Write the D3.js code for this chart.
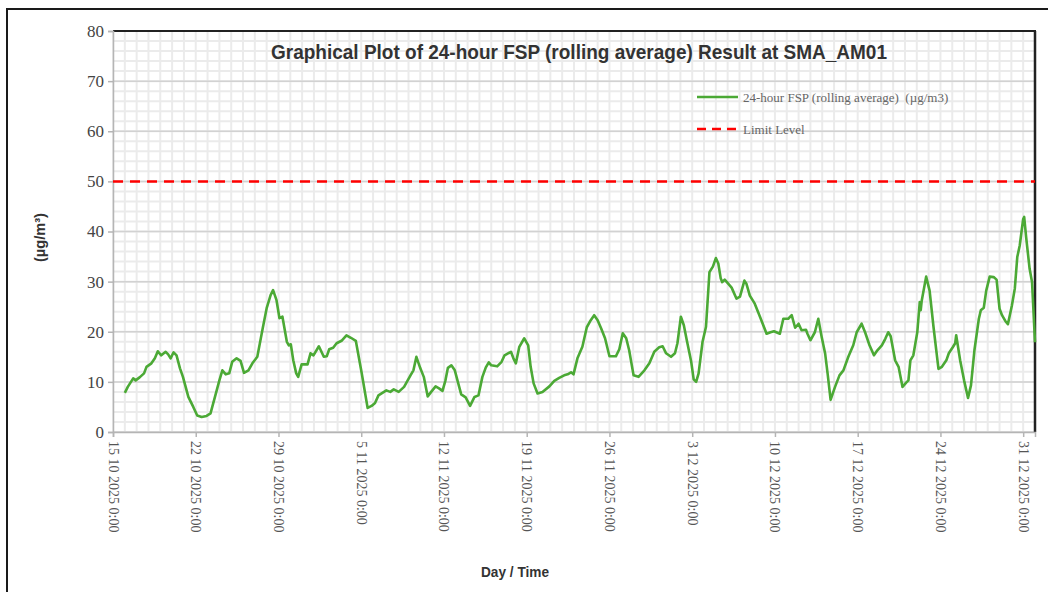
<!DOCTYPE html>
<html>
<head>
<meta charset="utf-8">
<title>24-hour FSP rolling average – SMA_AM01</title>
<script src="https://cdn.jsdelivr.net/npm/d3@7"></script>
<style>
  body { margin: 0; background: #fff; }
  svg { display: block; }
  .keep-space { white-space: pre; }
</style>
</head>
<body>
<svg id="chart" width="1048" height="592"></svg>
<script>
// ---- data -------------------------------------------------------------
const startTime = "2025-10-15 0:00";
// hours elapsed since startTime for each reading
const hoursFromStart = [
  24, 30, 41, 46, 54, 63, 68, 78, 85, 91, 98, 107, 112, 117, 123, 129, 136, 142, 153, 163,
  171, 180, 190, 198, 207, 216, 222, 229, 236, 242, 251, 259, 266, 275, 283, 293, 304, 312, 320, 325,
  332, 338, 344, 353, 357, 361, 366, 372, 376, 383, 395, 401, 407, 418, 428, 434, 439, 447, 454, 464,
  474, 483, 493, 505, 517, 525, 532, 539, 555, 563, 570, 580, 591, 604, 610, 616, 624, 631, 639, 646,
  655, 662, 669, 675, 680, 687, 694, 701, 707, 716, 725, 734, 742, 750, 757, 763, 768, 780, 789, 795,
  808, 813, 818, 825, 835, 843, 848, 854, 862, 872, 886, 896, 906, 916, 923, 930, 935, 943, 953, 962,
  970, 977, 984, 991, 999, 1008, 1021, 1028, 1035, 1042, 1048, 1057, 1067, 1079, 1089, 1099, 1109, 1116, 1123, 1133,
  1141, 1146, 1153, 1159, 1165, 1174, 1179, 1184, 1189, 1197, 1204, 1211, 1218, 1224, 1229, 1234, 1237, 1242, 1249, 1256,
  1266, 1273, 1282, 1286, 1293, 1303, 1314, 1327, 1335, 1342, 1354, 1361, 1371, 1378, 1385, 1392, 1398, 1407, 1410, 1416,
  1425, 1432, 1439, 1446, 1451, 1457, 1466, 1475, 1483, 1493, 1503, 1510, 1520, 1527, 1536, 1545, 1552, 1561, 1568, 1574,
  1579, 1588, 1595, 1603, 1610, 1615, 1619, 1625, 1633, 1638, 1640, 1642, 1651, 1658, 1666, 1676, 1683, 1692, 1697, 1705,
  1710, 1712, 1720, 1728, 1736, 1742, 1749, 1758, 1762, 1768, 1773, 1780, 1788, 1794, 1800, 1805, 1812, 1817, 1825, 1831,
  1836, 1841, 1848, 1850, 1854, 1861, 1866, 1872
];
// 24-hour FSP rolling average (µg/m3)
const fspValues = [
  7.8, 9.0, 10.7, 10.3, 10.9, 11.7, 13.0, 13.7, 14.7, 16.1, 15.3, 16.0, 15.5, 14.7, 15.9, 15.3, 12.7, 11.0, 7.0, 5.0,
  3.3, 3.0, 3.2, 3.7, 7.0, 10.3, 12.3, 11.5, 11.7, 14.0, 14.7, 14.2, 11.8, 12.3, 13.7, 15.0, 20.7, 24.7, 27.3, 28.3,
  26.3, 22.7, 23.0, 18.0, 17.3, 17.5, 14.3, 11.7, 11.0, 13.5, 13.5, 15.7, 15.3, 17.1, 15.0, 15.1, 16.5, 16.8, 17.7, 18.2,
  19.3, 18.8, 18.2, 11.7, 4.8, 5.2, 5.8, 7.3, 8.3, 8.0, 8.5, 8.0, 9.0, 11.3, 12.3, 15.0, 12.7, 11.0, 7.1, 8.0,
  9.1, 8.7, 8.2, 10.3, 12.8, 13.3, 12.3, 9.7, 7.5, 6.9, 5.2, 7.0, 7.3, 11.0, 12.9, 13.9, 13.3, 13.1, 14.0, 15.3,
  16.0, 14.7, 13.7, 17.0, 18.7, 17.3, 13.0, 9.7, 7.7, 8.0, 9.1, 10.2, 10.8, 11.3, 11.5, 11.9, 11.5, 14.7, 17.0, 20.9,
  22.3, 23.3, 22.3, 20.7, 18.7, 15.1, 15.1, 16.5, 19.7, 18.7, 16.3, 11.3, 11.0, 12.3, 13.7, 16.0, 16.9, 17.1, 15.7, 15.0,
  15.7, 17.7, 23.0, 21.3, 18.3, 14.0, 10.5, 10.0, 11.7, 18.0, 21.0, 31.9, 33.0, 34.7, 33.6, 30.6, 29.9, 30.4, 29.6, 28.8,
  26.6, 27.0, 30.2, 29.6, 27.2, 25.6, 22.9, 19.6, 19.9, 20.1, 19.6, 22.6, 22.6, 23.3, 20.8, 21.6, 20.3, 20.4, 19.6, 18.3,
  19.9, 22.6, 18.9, 15.6, 11.6, 6.4, 9.0, 11.3, 12.3, 15.0, 17.3, 19.9, 21.6, 19.9, 17.3, 15.3, 16.3, 17.3, 18.6, 19.9,
  19.1, 14.3, 13.0, 9.0, 9.8, 10.3, 14.3, 15.3, 19.9, 25.9, 24.3, 26.2, 31.0, 28.2, 20.9, 12.6, 13.0, 14.3, 15.7, 16.9,
  17.7, 19.3, 14.3, 10.3, 6.8, 9.3, 16.3, 22.6, 24.3, 24.8, 28.2, 31.0, 30.9, 30.4, 24.6, 23.3, 22.1, 21.5, 25.2, 28.6,
  34.9, 37.2, 42.5, 42.9, 38.9, 32.6, 29.9, 17.9
];
const limitLevel = 50;
const yTickValues = [0, 10, 20, 30, 40, 50, 60, 70, 80];
const xTickLabels = [
  "15 10 2025 0:00", "22 10 2025 0:00", "29 10 2025 0:00", "5 11 2025 0:00",
  "12 11 2025 0:00", "19 11 2025 0:00", "26 11 2025 0:00", "3 12 2025 0:00",
  "10 12 2025 0:00", "17 12 2025 0:00", "24 12 2025 0:00", "31 12 2025 0:00"
];
const endTime = "1 1 2026 0:00";
const chartTitle = "Graphical Plot of 24-hour FSP (rolling average) Result at SMA_AM01";
const seriesName = "24-hour FSP (rolling average)  (\u00b5g/m3)";
const limitName = "Limit Level";

// ---- setup ------------------------------------------------------------
const parseLabel = d3.utcParse("%d %m %Y %H:%M");
const parseStart = d3.utcParse("%Y-%m-%d %H:%M");
const t0 = parseStart(startTime);
const readings = hoursFromStart.map((h, i) => ({
  time: d3.utcHour.offset(t0, h),
  value: fspValues[i]
}));
const tickDates = xTickLabels.map(parseLabel);

const svg = d3.select("#chart");
const plot = { left: 113, right: 1035, top: 31, bottom: 432 };

const x = d3.scaleUtc()
  .domain([t0, parseLabel(endTime)])
  .range([plot.left, plot.right]);
const y = d3.scaleLinear()
  .domain([0, 80])
  .range([plot.bottom, plot.top]);

const serif = "'Liberation Serif', 'Times New Roman', serif";
const sans = "'Liberation Sans', Arial, sans-serif";

// outer frame
svg.append("rect")
  .attr("x", 7).attr("y", 9)
  .attr("width", 1200).attr("height", 700)
  .attr("fill", "none").attr("stroke", "#1a1a1a").attr("stroke-width", 2);

// ---- grid -------------------------------------------------------------
const grid = svg.append("g");
// daily vertical lines
grid.selectAll("line.vday")
  .data(d3.utcDay.range(t0, d3.utcDay.offset(parseLabel(endTime), 1)))
  .join("line")
  .attr("x1", d => x(d)).attr("x2", d => x(d))
  .attr("y1", plot.top).attr("y2", plot.bottom)
  .attr("stroke", "#ebebeb").attr("stroke-width", 2);
// minor horizontal lines every 2 units
grid.selectAll("line.hminor")
  .data(d3.range(0, 81, 2))
  .join("line")
  .attr("x1", plot.left).attr("x2", plot.right)
  .attr("y1", d => y(d)).attr("y2", d => y(d))
  .attr("stroke", "#ebebeb").attr("stroke-width", 2);
// major horizontal lines
grid.selectAll("line.hmajor")
  .data(yTickValues)
  .join("line")
  .attr("x1", plot.left).attr("x2", plot.right)
  .attr("y1", d => y(d)).attr("y2", d => y(d))
  .attr("stroke", "#d2d2d2").attr("stroke-width", 1.5);

// plot frame: dark top and right edges
svg.append("line")
  .attr("x1", plot.left).attr("x2", plot.right + 1)
  .attr("y1", plot.top).attr("y2", plot.top)
  .attr("stroke", "#222").attr("stroke-width", 2);
svg.append("line")
  .attr("x1", plot.right).attr("x2", plot.right)
  .attr("y1", plot.top).attr("y2", plot.bottom)
  .attr("stroke", "#222").attr("stroke-width", 2.5);

// ---- axes -------------------------------------------------------------
const yAxis = svg.append("g")
  .attr("transform", `translate(${plot.left},0)`)
  .call(d3.axisLeft(y).tickValues(yTickValues).tickSize(5).tickPadding(4));
yAxis.select(".domain").attr("stroke", "#b5b5b5").attr("stroke-width", 1.5);
yAxis.selectAll(".tick line").attr("stroke", "#b5b5b5").attr("stroke-width", 1.5);
yAxis.selectAll(".tick text")
  .attr("font-family", serif).attr("font-size", 17).attr("fill", "#444");

const xAxis = svg.append("g")
  .attr("transform", `translate(0,${plot.bottom})`)
  .call(d3.axisBottom(x).tickValues(tickDates).tickSize(5)
    .tickFormat((d, i) => xTickLabels[i]));
xAxis.select(".domain").attr("stroke", "#b5b5b5").attr("stroke-width", 1.5);
xAxis.selectAll(".tick line").attr("stroke", "#b5b5b5").attr("stroke-width", 1.5);
xAxis.selectAll(".tick text")
  .attr("font-family", serif).attr("font-size", 14).attr("fill", "#555")
  .attr("text-anchor", "start")
  .attr("x", 0).attr("y", 0).attr("dy", 0)
  .attr("transform", "translate(-5,9) rotate(90)");

// ---- series -----------------------------------------------------------
svg.append("line")
  .attr("x1", plot.left).attr("x2", plot.right)
  .attr("y1", y(limitLevel)).attr("y2", y(limitLevel))
  .attr("stroke", "#ff0000").attr("stroke-width", 2.5)
  .attr("stroke-dasharray", "10,7");

svg.append("path")
  .datum(readings)
  .attr("fill", "none")
  .attr("stroke", "#4ba935")
  .attr("stroke-width", 2.6)
  .attr("stroke-linejoin", "round")
  .attr("d", d3.line().x(d => x(d.time)).y(d => y(d.value)));

// ---- legend -----------------------------------------------------------
const legend = svg.append("g").attr("font-family", serif).attr("font-size", 13).attr("fill", "#666");
legend.append("line")
  .attr("x1", 697).attr("x2", 738).attr("y1", 97).attr("y2", 97)
  .attr("stroke", "#4ba935").attr("stroke-width", 2.5);
legend.append("text").attr("class", "keep-space").attr("x", 743).attr("y", 102).text(seriesName);
legend.append("line")
  .attr("x1", 697).attr("x2", 738).attr("y1", 129).attr("y2", 129)
  .attr("stroke", "#ff0000").attr("stroke-width", 2.5)
  .attr("stroke-dasharray", "9,6");
legend.append("text").attr("x", 743).attr("y", 134).text(limitName);

// ---- titles -----------------------------------------------------------
svg.append("text")
  .attr("x", 271).attr("y", 59)
  .attr("font-family", sans).attr("font-weight", "bold").attr("font-size", 21)
  .attr("fill", "#333")
  .attr("textLength", 616).attr("lengthAdjust", "spacingAndGlyphs")
  .text(chartTitle);

svg.append("text")
  .attr("transform", "translate(45,262) rotate(-90)")
  .attr("font-family", sans).attr("font-weight", "bold").attr("font-size", 14)
  .attr("fill", "#333")
  .attr("textLength", 49).attr("lengthAdjust", "spacingAndGlyphs")
  .text("(\u00b5g/m\u00b3)");

svg.append("text")
  .attr("x", 481).attr("y", 577)
  .attr("font-family", sans).attr("font-weight", "bold").attr("font-size", 15)
  .attr("fill", "#333")
  .attr("textLength", 68).attr("lengthAdjust", "spacingAndGlyphs")
  .text("Day / Time");
</script>
</body>
</html>
